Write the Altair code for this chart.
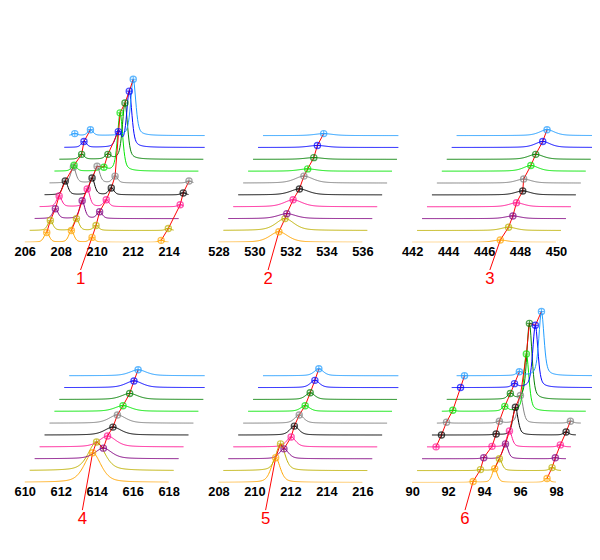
import numpy as np
import pandas as pd
import altair as alt

TRACE_COLORS = ["#FFA500", "#BDB000", "#800080", "#FF1493", "#000000",
                "#808080", "#00E600", "#008000", "#0000FF", "#1E9BFF"]

# panel settings: first tick, peak half width, label text, label x, arrow target track
TICK0 = [206, 528, 442, 610, 208, 90]
WIDTHS = [0.17, 0.6, 0.5, 0.55, 0.3, 0.17]
LABELS = ["1", "2", "3", "4", "5", "6"]
LABEL_X = [209.1, 530.76, 446.32, 613.2, 210.62, 92.94]
ARROW_TRACK = ["c", "a", "a", "a", "a", "a"]

# peaks per trace (bottom -> top): (position, height, track)
P1 = [
    [(207.22, 10, "a"), (208.59, 12, "b"), (209.74, 5, "c"), (213.58, 2, "d")],
    [(207.42, 10, "a"), (208.87, 12, "b"), (209.96, 5, "c"), (213.98, 2, "d")],
    [(207.70, 10, "a"), (209.19, 18, "b"), (210.16, 7, "c")],
    [(207.91, 11, "a"), (209.47, 18, "b"), (210.53, 7, "c"), (214.64, 2, "d")],
    [(208.25, 14, "a"), (209.74, 17, "b"), (210.81, 7, "c"), (214.81, 2, "d")],
    [(208.70, 16, "a"), (210.02, 17, "b"), (211.02, 7, "c"), (215.13, 2, "d")],
    [(208.74, 6, "a"), (210.40, 4, "b"), (211.30, 59, "c")],
    [(209.16, 5, "a"), (210.62, 5, "b"), (211.57, 57, "c")],
    [(209.29, 6, "a"), (211.20, 16, "b"), (211.81, 57, "c")],
    [(208.78, 2, "e"), (209.65, 6, "a"), (212.03, 57, "c")],
]
P2 = [[(531.36, 10.7, "a")], [(531.70, 12, "a")], [(531.80, 5, "a")],
      [(532.15, 7, "a")], [(532.50, 6, "a")], [(532.75, 7, "a")],
      [(532.96, 2.3, "a")], [(533.30, 1.7, "a")], [(533.50, 2, "a")],
      [(533.85, 2, "a")]]
P3 = [[(446.90, 2.3, "a")], [(447.36, 3.3, "a")], [(447.60, 2.7, "a")],
      [(447.80, 4, "a")], [(448.15, 4, "a")], [(448.20, 4, "a")],
      [(448.60, 5.7, "a")], [(448.87, 5, "a")], [(449.26, 6, "a")],
      [(449.50, 6, "a")]]
P4 = [[(613.77, 30, "a")], [(613.99, 29, "a")], [(614.37, 10.7, "a")],
      [(614.60, 11, "a")], [(614.90, 8, "a")], [(615.15, 8.3, "a")],
      [(615.46, 5.7, "a")], [(615.83, 6, "a")], [(616.07, 6.7, "a")],
      [(616.30, 6, "a")]]
P5 = [[(211.18, 25, "a")], [(211.45, 27, "a")], [(211.64, 10, "a")],
      [(212.04, 10, "a")], [(212.22, 9, "a")], [(212.49, 8.3, "a")],
      [(212.82, 5.7, "a")], [(213.10, 6.7, "a")], [(213.36, 7.3, "a")],
      [(213.58, 7, "a")]]
P6 = [
    [(93.39, 1, "a"), (94.59, 14, "b"), (97.50, 4, "c")],
    [(93.80, 1, "a"), (94.85, 12, "b"), (97.78, 3, "c")],
    [(93.98, 1, "a"), (95.19, 15, "b"), (97.96, 1, "c")],
    [(91.33, 0, "d"), (94.44, 0.5, "a"), (95.41, 16, "b"), (98.24, 2, "c")],
    [(91.63, 0, "d"), (94.67, 1, "a"), (95.74, 28, "b"), (98.56, 3, "c")],
    [(91.91, 1, "d"), (94.85, 2, "a"), (96.02, 28, "b"), (98.80, 2, "c")],
    [(92.26, 1, "d"), (95.15, 5, "a"), (96.35, 58, "b")],
    [(95.46, 6, "a"), (96.52, 77, "b")],
    [(92.69, 0, "d"), (95.69, 4, "a"), (96.85, 63, "b")],
    [(92.91, 0, "d"), (95.96, 4, "a"), (97.19, 65, "b")],
]
PANELS = [P1, P2, P3, P4, P5, P6]

SPAN = 8.0
SHIFT = 0.275
STEP = 12
PXU = 18.2
W, H = 184, 190


def panel(i):
    peaks, t0, w = PANELS[i], TICK0[i], WIDTHS[i]
    rows, marks = [], []
    for k, pk in enumerate(peaks):
        xs = np.linspace(t0 + k * SHIFT, t0 + SPAN + k * SHIFT, 220)
        ys = np.full_like(xs, k * STEP, dtype=float)
        for p, h, tr in pk:
            d = (xs - p) / w
            ys += h * (0.5 / (1 + d ** 2) + 0.5 * np.exp(-0.69 * d ** 2))
            marks.append({"x": p, "y": k * STEP + h, "k": k, "track": tr})
        rows += [{"x": a, "y": b, "k": k} for a, b in zip(xs, ys)]
    curves = pd.DataFrame(rows)
    mk = pd.DataFrame(marks)
    red = mk[["x", "y", "k", "track"]].copy()
    red = pd.concat([red, pd.DataFrame([{"x": LABEL_X[i], "y": -28, "k": -1,
                                         "track": ARROW_TRACK[i]}])])
    lo = t0 - 2 / PXU
    xsc = alt.Scale(domain=[lo, lo + W / PXU], nice=False, zero=False)
    ysc = alt.Scale(domain=[0, H], nice=False, zero=False)
    col = alt.Color("k:O", scale=alt.Scale(domain=list(range(10)), range=TRACE_COLORS), legend=None)
    xax = alt.X("x:Q", scale=xsc, title=None,
                axis=alt.Axis(values=[t0 + 2 * j for j in range(5)], domain=False, ticks=False,
                              grid=False, labelFont="Liberation Sans", labelFontWeight="bold",
                              labelFontSize=13, labelColor="black", labelPadding=3))
    yax = alt.Y("y:Q", scale=ysc, axis=None)
    base_curve = alt.Chart(curves).mark_line(strokeWidth=1, clip=True).encode(
        x=xax, y=yax, color=col, detail="k:N", order="x:Q")
    reds = alt.Chart(red).mark_line(color="red", strokeWidth=1).encode(
        x="x:Q", y="y:Q", detail="track:N", order="k:Q")
    shape = "M-1,0A1,1,0,1,1,1,0A1,1,0,1,1,-1,0M-1,0L1,0M0,-1L0,1"
    pts = alt.Chart(mk).mark_point(shape=shape, size=40, strokeWidth=1.2, filled=False).encode(
        x="x:Q", y="y:Q", color=col)
    lab = alt.Chart(pd.DataFrame({"x": [LABEL_X[i]], "y": [-37], "t": [LABELS[i]]})).mark_text(
        color="red", fontSize=17, font="Liberation Sans", baseline="middle").encode(
        x="x:Q", y="y:Q", text="t:N")
    return alt.layer(base_curve, reds, pts, lab).properties(width=W, height=H)


row1 = alt.hconcat(panel(0), panel(1), panel(2), spacing=12, bounds="flush")
row2 = alt.hconcat(panel(3), panel(4), panel(5), spacing=12, bounds="flush")
chart = alt.vconcat(row1, row2, spacing=8).properties(
    padding={"left": 6, "top": 44, "right": 0, "bottom": 0}
).configure(background="white", view=alt.ViewConfig(stroke="transparent", strokeWidth=0))

chart.save("out.html", embed_options={"renderer": "svg", "actions": False})
